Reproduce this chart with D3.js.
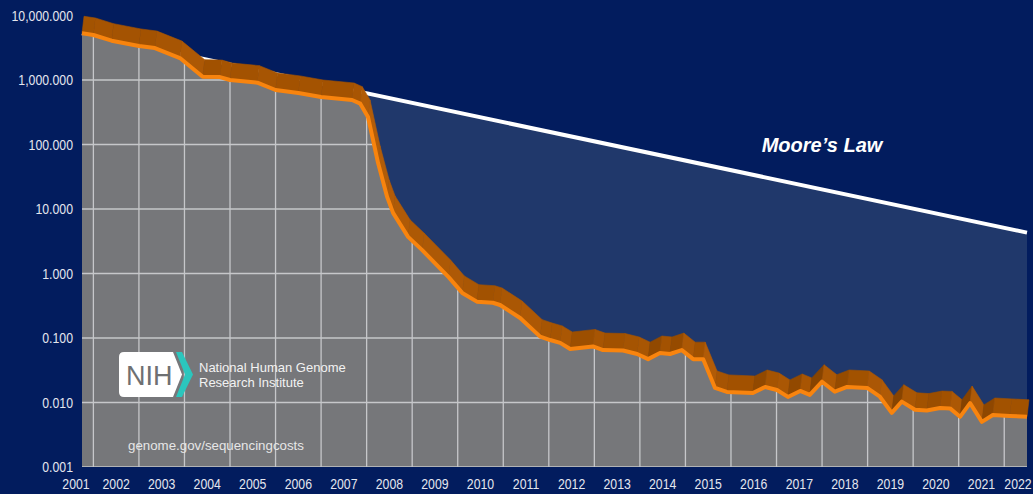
<!DOCTYPE html>
<html lang="en">
<head>
<meta charset="UTF-8">
<title>Cost per Raw Megabase of DNA Sequence</title>
<script src="https://d3js.org/d3.v7.min.js"></script>
<style>
  body { margin: 0; padding: 0; background: #021c5e; overflow: hidden; }
  svg { display: block; }
  .axis-label { font-family: "Liberation Sans", Arial, sans-serif; font-size: 15px; fill: #e4e6ee; }
  .note { font-family: "Liberation Sans", Arial, sans-serif; }
</style>
</head>
<body>
<svg id="chart" width="1033" height="494"></svg>
<script>
// cost per raw megabase (USD)
const years = [2001.75, 2002.0, 2002.4, 2003.0, 2003.35, 2003.9, 2004.4, 2004.78, 2005.0, 2005.6,
  2006.0, 2006.5, 2007.0, 2007.68, 2007.86, 2008.03, 2008.25, 2008.45, 2008.58, 2008.91,
  2009.22, 2009.8, 2010.1, 2010.42, 2010.77, 2010.93, 2011.37, 2011.81, 2012.03, 2012.25,
  2012.47, 2012.97, 2013.19, 2013.63, 2013.94, 2014.18, 2014.44, 2014.66, 2014.92, 2015.17,
  2015.39, 2015.65, 2015.91, 2016.48, 2016.75, 2017.01, 2017.25, 2017.52, 2017.73, 2018.0,
  2018.28, 2018.55, 2018.99, 2019.27, 2019.53, 2019.75, 2020.04, 2020.3, 2020.59, 2020.81,
  2021.03, 2021.25, 2021.51, 2021.75, 2022.12, 2022.5];
const costs = [5300, 4990, 4070, 3370, 3130, 2190, 1125, 1110, 1000, 910,
  700, 630, 545, 490, 430, 267, 52, 15.4, 8.7, 3.7,
  2.3, 0.88, 0.50, 0.366, 0.352, 0.325, 0.204, 0.105, 0.093, 0.084,
  0.0675, 0.074, 0.065, 0.064, 0.0565, 0.047, 0.0585, 0.0565, 0.065, 0.047,
  0.047, 0.0168, 0.0146, 0.0140, 0.0174, 0.0156, 0.0122, 0.0151, 0.0131, 0.021,
  0.0147, 0.0174, 0.0168, 0.0123, 0.0069, 0.0103, 0.0077, 0.0075, 0.0082, 0.0081,
  0.0060, 0.0098, 0.0050, 0.0064, 0.0062, 0.0060];

// Moore's law reference line (straight on the log axis)
const mooreYears = [2001.75, 2022.5];
const mooreCosts = [5300, 4.3];

const yTicks = [10000, 1000, 100, 10, 1, 0.1, 0.01, 0.001];
const gridYears = [2002, 2003, 2004, 2005, 2006, 2007, 2008, 2009, 2010, 2011, 2012,
  2013, 2014, 2015, 2016, 2017, 2018, 2019, 2020, 2021, 2022];
const yearLabels = [2001, 2002, 2003, 2004, 2005, 2006, 2007, 2008, 2009, 2010, 2011,
  2012, 2013, 2014, 2015, 2016, 2017, 2018, 2019, 2020, 2021, 2022];

const width = 1033, height = 494;
const margin = {top: 15.5, right: 6, bottom: 27, left: 82};
const narrow = 0.82; // the labels use a condensed face

const svg = d3.select("#chart");

const x = d3.scaleLinear()
    .domain([years[0], years[years.length - 1]])
    .range([margin.left, width - margin.right]);
const y = d3.scaleLog()
    .domain([0.001, 10000])
    .range([height - margin.bottom, margin.top]);

const data = years.map((t, i) => ({t: t, v: costs[i]}));
const moore = mooreYears.map((t, i) => ({t: t, v: mooreCosts[i]}));

svg.append("rect").attr("width", width).attr("height", height).attr("fill", "#021c5e");

// lighter blue below Moore's law
svg.append("path")
    .datum(moore)
    .attr("d", d3.area().x(d => x(d.t)).y0(y(0.001)).y1(d => y(d.v)))
    .attr("fill", "#20386b");

svg.append("path")
    .datum(moore)
    .attr("d", d3.line().x(d => x(d.t)).y(d => y(d.v)))
    .attr("fill", "none")
    .attr("stroke", "#ffffff")
    .attr("stroke-width", 4);

// grey area under the cost curve
const costArea = d3.area().x(d => x(d.t)).y0(y(0.001)).y1(d => y(d.v));
svg.append("clipPath").attr("id", "under")
    .append("path").datum(data).attr("d", costArea);

svg.append("path")
    .datum(data)
    .attr("d", costArea)
    .attr("fill", "#76777a");

// grid only shows inside the grey
const grid = svg.append("g")
    .attr("clip-path", "url(#under)")
    .attr("stroke", "#c6c7ca")
    .attr("stroke-width", 1.3);

grid.selectAll("line.h")
    .data(yTicks)
    .join("line")
    .attr("class", "h")
    .attr("x1", x.range()[0]).attr("x2", x.range()[1])
    .attr("y1", d => y(d)).attr("y2", d => y(d));

grid.selectAll("line.v")
    .data(gridYears)
    .join("line")
    .attr("class", "v")
    .attr("x1", d => x(d)).attr("x2", d => x(d))
    .attr("y1", y.range()[1]).attr("y2", y.range()[0]);

// 3D ribbon on top of the curve
const off = {dx: 2, dy: -17};
const shade = d3.scaleLinear().domain([-1, 0, 1]).range(["#7f3f00", "#a15100", "#b25c08"]);

function faceColor([a, b]) {
    const dx = x(b.t) - x(a.t), dy = y(b.v) - y(a.v);
    return shade(dy / Math.hypot(dx, dy));
}

svg.append("g")
    .selectAll("path")
    .data(d3.pairs(data))
    .join("path")
    .attr("d", ([a, b]) => {
        const x0 = x(a.t), y0 = y(a.v), x1 = x(b.t), y1 = y(b.v);
        return `M${x0},${y0}L${x1},${y1}L${x1 + off.dx},${y1 + off.dy}L${x0 + off.dx},${y0 + off.dy}Z`;
    })
    .attr("fill", faceColor)
    .attr("stroke", faceColor)
    .attr("stroke-width", 0.6);

svg.append("path")
    .datum(data)
    .attr("d", d3.line().x(d => x(d.t)).y(d => y(d.v)))
    .attr("fill", "none")
    .attr("stroke", "#f8840e")
    .attr("stroke-width", 4)
    .attr("stroke-linejoin", "round");

// y labels
const fmt = d3.format(",.3f");
svg.append("g")
    .selectAll("text")
    .data(yTicks)
    .join("text")
    .attr("class", "axis-label")
    .attr("transform", d => `translate(${margin.left - 9},${y(d)}) scale(${narrow},1)`)
    .attr("dy", "0.35em")
    .attr("text-anchor", "end")
    .text(d => fmt(d));

// year labels sit in the middle of each year
svg.append("g")
    .selectAll("text")
    .data(yearLabels)
    .join("text")
    .attr("class", "axis-label")
    .attr("transform", d => {
        const cx = Math.min(Math.max(x(d + 0.5), x.range()[0] - 6), x.range()[1] - 9);
        return `translate(${cx},${height - 5.5}) scale(${narrow},1)`;
    })
    .attr("text-anchor", "middle")
    .text(d => d);

svg.append("text")
    .attr("class", "note")
    .attr("x", x(2018))
    .attr("y", y(100) + 7)
    .attr("text-anchor", "middle")
    .attr("font-size", 20)
    .attr("font-weight", "bold")
    .attr("font-style", "italic")
    .attr("fill", "#ffffff")
    .text("Moore\u2019s Law");

// NIH logo
const logo = svg.append("g").attr("transform", "translate(119,352)");
logo.append("path")
    .attr("d", "M5,0H54L63,22.5L54,45H5Q0,45 0,40V5Q0,0 5,0Z")
    .attr("fill", "#ffffff");
logo.append("path")
    .attr("d", "M57,0H63L74,22.5L63,45H57L66,22.5Z")
    .attr("fill", "#2bc6bd");
logo.append("text")
    .attr("class", "note")
    .attr("x", 7).attr("y", 33)
    .attr("font-size", 27)
    .attr("fill", "#6e7072")
    .text("NIH");
logo.append("text")
    .attr("class", "note")
    .attr("x", 80).attr("y", 19.5)
    .attr("font-size", 13)
    .attr("fill", "#f2f2f2")
    .text("National Human Genome");
logo.append("text")
    .attr("class", "note")
    .attr("x", 80).attr("y", 34.5)
    .attr("font-size", 13)
    .attr("fill", "#f2f2f2")
    .text("Research Institute");

svg.append("text")
    .attr("class", "note")
    .attr("x", 128).attr("y", 450)
    .attr("font-size", 13.3)
    .attr("fill", "#e6e6e6")
    .text("genome.gov/sequencingcosts");
</script>
</body>
</html>
